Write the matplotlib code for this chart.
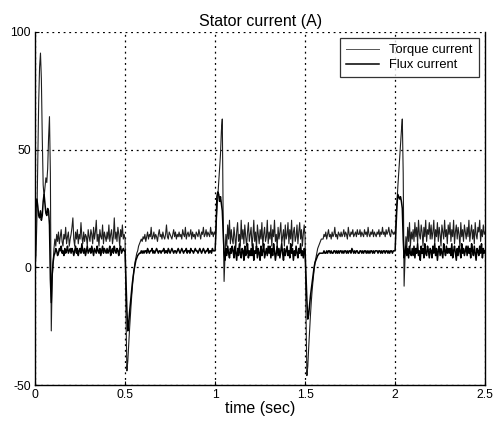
import numpy as np
import matplotlib
matplotlib.use("Agg")
import matplotlib.pyplot as plt

plt.rcParams['font.family'] = ['Liberation Sans', 'DejaVu Sans']

# sampling interval of the recorded currents (s)
sample_step = 0.005

# torque-producing current component (A), one row per 0.1 s
torque_current = [
    0, 5, 20, 45, 70, 85, 91, 80, 55, 35, 30, 34, 38, 36, 42, 55, 64, 40, -27, -5,
    2, 8, 12, 9, 14, 11, 15, 10, 13, 16, 11, 9, 14, 12, 17, 10, 13, 15, 9, 12,
    14, 17, 21, 12, 9, 15, 12, 16, 10, 14, 12, 19, 13, 10, 15, 11, 14, 13, 9, 16,
    13, 11, 16, 14, 10, 17, 12, 15, 20, 11, 14, 9, 16, 13, 12, 18, 10, 15, 13, 11,
    15, 12, 18, 11, 14, 16, 10, 13, 21, 12, 15, 11, 17, 14, 9, 16, 13, 18, 12, 14,
    12, -20, -44, -40, -33, -26, -20, -14, -9, -4, -1, 2, 4, 6, 7, 9, 10, 11, 12, 11,
    13, 12, 14, 11, 13, 15, 12, 14, 13, 17, 12, 13, 15, 12, 14, 13, 11, 14, 16, 13,
    14, 12, 15, 13, 12, 14, 18, 13, 12, 15, 14, 13, 12, 14, 16, 13, 15, 12, 14, 13,
    15, 13, 14, 12, 16, 14, 13, 17, 12, 14, 15, 13, 14, 16, 12, 15, 13, 14, 12, 15,
    14, 13, 16, 14, 12, 15, 14, 17, 13, 14, 16, 13, 15, 14, 13, 17, 14, 15, 13, 15,
    14, 18, 24, 30, 36, 42, 48, 58, 63, 20, -6, 5, 14, 9, 18, 12, 20, 10, 16, 12,
    10, 17, 13, 8, 15, 19, 11, 14, 9, 20, 12, 16, 10, 18, 13, 9, 15, 19, 11, 14,
    17, 9, 13, 20, 11, 15, 8, 18, 14, 10, 16, 12, 19, 9, 14, 17, 11, 13, 20, 10,
    15, 12, 18, 9, 16, 13, 20, 11, 14, 8, 17, 12, 15, 19, 10, 13, 16, 9, 18, 12,
    14, 19, 10, 16, 12, 20, 9, 15, 17, 11, 13, 18, 10, 15, 19, 12, 16, 9, 14, 18,
    13, -20, -46, -42, -34, -27, -20, -14, -9, -5, -1, 2, 4, 6, 8, 9, 10, 11, 12, 12,
    12, 14, 13, 15, 12, 14, 16, 13, 14, 12, 15, 13, 14, 17, 13, 14, 12, 15, 14, 13,
    15, 13, 14, 16, 13, 15, 14, 12, 17, 14, 13, 15, 14, 16, 13, 14, 15, 13, 16, 14,
    14, 16, 13, 15, 14, 13, 16, 14, 15, 13, 17, 14, 13, 15, 14, 16, 13, 15, 14, 13,
    15, 14, 16, 13, 15, 14, 17, 14, 15, 13, 16, 14, 15, 17, 14, 13, 16, 15, 14, 15,
    14, 20, 27, 34, 40, 46, 52, 58, 63, 40, -8, 4, 13, 8, 17, 11, 19, 9, 15, 12,
    16, 11, 19, 13, 17, 10, 20, 14, 12, 18, 15, 9, 17, 13, 20, 11, 16, 14, 19, 12,
    18, 12, 15, 20, 10, 16, 13, 19, 11, 17, 14, 9, 18, 15, 12, 20, 13, 16, 10, 18,
    14, 19, 11, 16, 13, 20, 10, 15, 18, 12, 17, 14, 9, 19, 13, 16, 11, 18, 15, 12,
    17, 13, 20, 11, 15, 18, 12, 16, 10, 19, 14, 12, 17, 15, 20, 11, 16, 13, 18, 14,
    15,
]

# flux-producing current component (A), one row per 0.1 s
flux_current = [
    0, 25, 29, 26, 22, 21, 24, 20, 22, 28, 31, 27, 23, 22, 25, 24, 18, -5, -15, -3,
    2, 5, 6, 8, 7, 5, 6, 8, 7, 9, 6, 7, 5, 8, 6, 7, 9, 6, 7, 8,
    6, 8, 7, 5, 7, 9, 6, 8, 5, 7, 8, 6, 10, 7, 6, 8, 5, 7, 9, 6,
    7, 8, 6, 9, 7, 5, 8, 7, 6, 9, 7, 6, 8, 5, 7, 9, 6, 8, 7, 6,
    8, 6, 7, 9, 5, 7, 8, 6, 9, 7, 6, 8, 7, 5, 8, 9, 6, 7, 8, 7,
    7, -5, -18, -27, -24, -19, -15, -11, -7, -4, -1, 1, 3, 4, 5, 5.5, 6, 6, 7, 6,
    7, 6, 7, 7, 6, 8, 7, 6, 7, 7, 8, 6, 7, 6, 7, 8, 7, 6, 7, 7,
    6, 7, 7, 8, 6, 7, 7, 6, 8, 7, 6, 7, 8, 7, 6, 7, 7, 6, 7, 8,
    7, 6, 7, 8, 7, 6, 7, 7, 8, 6, 7, 7, 6, 8, 7, 7, 6, 7, 8, 7,
    7, 6, 7, 8, 7, 6, 7, 8, 7, 6, 7, 7, 8, 6, 7, 7, 6, 8, 7, 7,
    7, 15, 30, 32, 31, 28, 30, 27, 24, 15, 6, 3, 8, 5, 9, 6, 4, 8, 6, 9,
    7, 4, 9, 6, 3, 8, 5, 10, 6, 4, 8, 7, 3, 9, 5, 6, 10, 4, 7, 5,
    8, 5, 10, 3, 7, 6, 9, 4, 8, 6, 3, 9, 5, 7, 10, 4, 6, 8, 5, 9,
    6, 9, 4, 8, 5, 10, 7, 3, 6, 9, 5, 8, 4, 7, 10, 6, 3, 8, 5, 7,
    9, 5, 7, 4, 10, 6, 8, 3, 7, 5, 9, 6, 4, 8, 6, 10, 5, 7, 4, 8,
    7, -4, -14, -22, -20, -16, -12, -9, -6, -3, 0, 2, 3, 4, 5, 5.5, 6, 6, 6, 6,
    6, 7, 6, 6, 7, 6, 7, 7, 6, 7, 6, 6, 7, 7, 6, 7, 6, 7, 6, 7,
    7, 6, 7, 6, 7, 7, 6, 7, 6, 7, 7, 6, 8, 7, 6, 7, 6, 7, 7, 6,
    6, 7, 7, 6, 7, 6, 7, 7, 6, 7, 6, 7, 6, 7, 7, 6, 7, 6, 7, 7,
    7, 6, 7, 7, 6, 7, 6, 7, 7, 6, 7, 7, 6, 7, 6, 7, 7, 6, 7, 7,
    7, 16, 26, 31, 30, 29, 30, 28, 25, 12, 4, 6, 9, 5, 8, 4, 9, 6, 5, 8,
    5, 9, 4, 8, 6, 10, 5, 7, 3, 9, 6, 8, 4, 10, 6, 5, 9, 7, 4, 8,
    7, 4, 9, 6, 10, 5, 8, 3, 7, 9, 5, 8, 6, 4, 10, 7, 5, 9, 6, 8,
    6, 8, 5, 10, 4, 7, 9, 6, 3, 8, 5, 9, 7, 4, 10, 6, 8, 5, 7, 9,
    5, 9, 6, 8, 4, 10, 7, 5, 9, 6, 3, 8, 7, 5, 9, 6, 10, 4, 8, 6,
    7,
]

x_ticks = [0, 0.5, 1, 1.5, 2, 2.5]
x_tick_labels = ['0', '0.5', '1', '1.5', '2', '2.5']
y_ticks = [-50, 0, 50, 100]
y_tick_labels = ['-50', '0', '50', '100']
series_labels = ['Torque current', 'Flux current']

time = np.arange(len(torque_current)) * sample_step

fig = plt.figure(figsize=(4.94, 4.25), dpi=100)
ax = fig.add_axes([0.071, 0.094, 0.911, 0.831])

ax.plot(time, torque_current, color='#1e1e1e', linewidth=0.8, label=series_labels[0])
ax.plot(time, flux_current, color='black', linewidth=1.1, label=series_labels[1])

ax.set_xlim(0, 2.5)
ax.set_ylim(-50, 100)
ax.set_xticks(x_ticks)
ax.set_xticklabels(x_tick_labels)
ax.set_yticks(y_ticks)
ax.set_yticklabels(y_tick_labels)
ax.tick_params(direction='in', length=3, labelsize=8.8, pad=3, colors='black')

ax.grid(True, linestyle=(0, (1.5, 3)), color='black', linewidth=0.9)
ax.spines['top'].set_visible(False)
for side in ('left', 'right', 'bottom'):
    ax.spines[side].set_linewidth(1.0)

ax.set_title('Stator current (A)', fontsize=11.5, pad=4)
ax.set_xlabel('time (sec)', fontsize=11.5, labelpad=0)

leg = ax.legend(loc='upper right', fontsize=9.3, frameon=True, fancybox=False,
                edgecolor='black', borderpad=0.45, handlelength=2.6,
                labelspacing=0.25, borderaxespad=0.5)
leg.get_frame().set_linewidth(0.9)
leg.get_lines()[0].set_linewidth(0.7)
leg.get_lines()[0].set_color('#555555')

fig.savefig('out.png', dpi=100, facecolor='white')
